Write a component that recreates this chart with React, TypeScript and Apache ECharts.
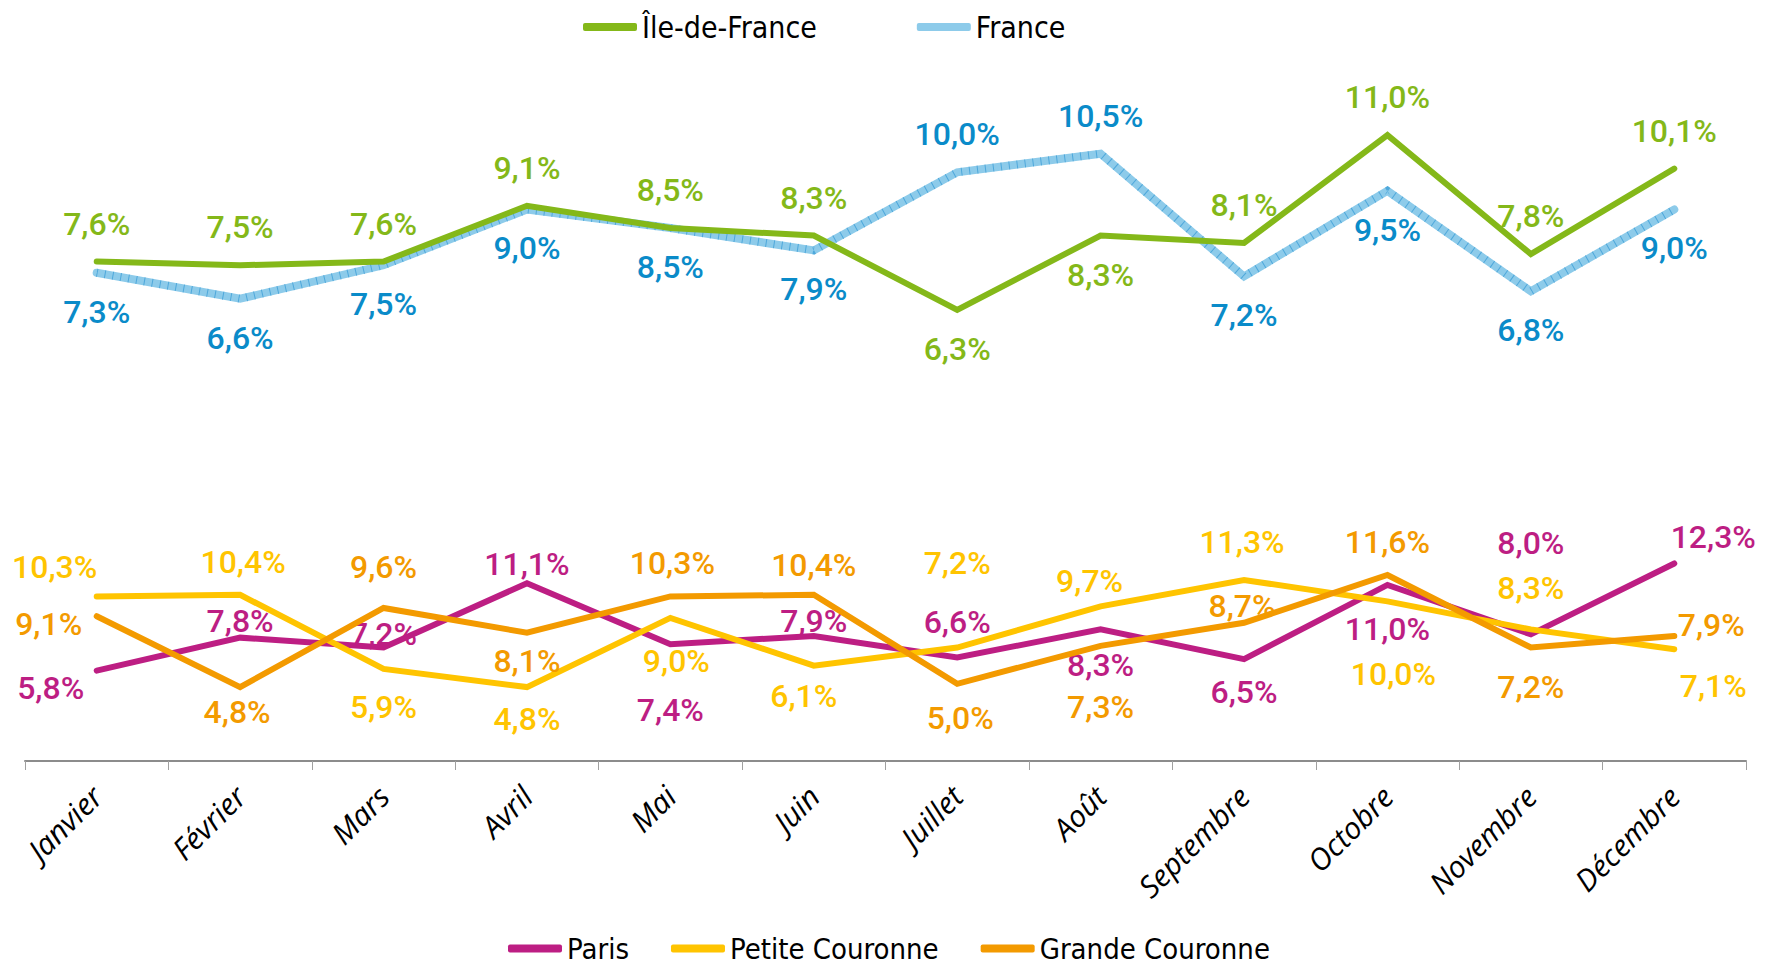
import React, { useEffect, useRef } from "react";
import * as echarts from "echarts";

const months = ["Janvier", "Février", "Mars", "Avril", "Mai", "Juin", "Juillet", "Août", "Septembre", "Octobre", "Novembre", "Décembre"];

const idfValues = [7.6, 7.5, 7.6, 9.1, 8.5, 8.3, 6.3, 8.3, 8.1, 11.0, 7.8, 10.1];
const franceValues = [7.3, 6.6, 7.5, 9.0, 8.5, 7.9, 10.0, 10.5, 7.2, 9.5, 6.8, 9.0];
const parisValues = [5.8, 7.8, 7.2, 11.1, 7.4, 7.9, 6.6, 8.3, 6.5, 11.0, 8.0, 12.3];
const petiteValues = [10.3, 10.4, 5.9, 4.8, 9.0, 6.1, 7.2, 9.7, 11.3, 10.0, 8.3, 7.1];
const grandeValues = [9.1, 4.8, 9.6, 8.1, 10.3, 10.4, 5.0, 7.3, 8.7, 11.6, 7.2, 7.9];

// label placement offsets [dx, dy] in pixels (layout only)
const A = -38, B = 39;
const idfLabelOffsets = [[0, A], [0, A], [0, A], [0, A], [0, A], [0, A], [0, B], [0, B], [0, A], [0, A], [0, A], [0, A]];
const franceLabelOffsets = [[0, B], [0, B], [0, B], [0, B], [0, B], [0, B], [0, A], [0, A], [0, B], [0, B], [0, B], [0, B]];
const parisLabelOffsets = [[-46, 17], [0, -17], [0, -14], [0, -19], [0, 66], [0, -15], [0, -35], [0, 36], [0, 33], [0, 44], [0, -91], [39, -26]];
const petiteLabelOffsets = [[-42, -29], [3, -33], [0, 38], [0, 32], [6, 43], [-10, 30], [0, -85], [-11, -25], [-2, -38], [6, 73], [0, -41], [39, 37]];
const grandeLabelOffsets = [[-48, 8], [-3, 25], [0, -41], [0, 28], [2, -33], [0, -30], [3, 34], [0, 61], [-2, -17], [0, -33], [0, 39], [37, -11]];

const labelFont = "Roboto";
const fmt = (v: number) => v.toFixed(1).replace(".", ",") + "%";

function makeSeries(name: string, values: number[], offsets: number[][], color: string, labelColor: string, yAxisIndex: number, width: number, z: number) {
  return {
    type: "line",
    name,
    yAxisIndex,
    z,
    data: values.map((v, i) => ({ value: v, label: { offset: offsets[i] } })),
    symbol: "circle",
    symbolSize: 1,
    itemStyle: { color },
    lineStyle: { color, width, cap: "round", join: "miter" },
    label: {
      show: true,
      position: "inside",
      color: labelColor,
      fontSize: 32,
      fontWeight: 500,
      fontFamily: labelFont,
      formatter: (p: any) => fmt(p.value),
    },
    emphasis: { disabled: true },
  };
}

export default function App() {
  const ref = useRef<HTMLDivElement>(null);
  useEffect(() => {
    document.body.style.margin = "0";
    const chart = echarts.init(ref.current!, undefined, { renderer: "svg" });
    const legendFont = "'Liberation Sans Narrow', 'DejaVu Sans Condensed', sans-serif";
    chart.setOption({
      animation: false,
      backgroundColor: "#fff",
      grid: { left: 25, right: 21, top: 60, bottom: 206, containLabel: false },
      legend: [
        {
          data: ["Île-de-France", "France"],
          left: 578,
          top: 7,
          icon: "roundRect",
          itemWidth: 54,
          itemHeight: 8,
          itemGap: 100,
          textStyle: { fontFamily: legendFont, fontSize: 30, color: "#000" },
        },
        {
          data: ["Paris", "Petite Couronne", "Grande Couronne"],
          left: 503,
          top: 929,
          icon: "roundRect",
          itemWidth: 54,
          itemHeight: 8,
          itemGap: 42,
          textStyle: { fontFamily: legendFont, fontSize: 29, color: "#000" },
        },
      ],
      xAxis: {
        type: "category",
        data: months,
        boundaryGap: true,
        axisLine: { show: true, onZero: false, lineStyle: { color: "#8c8c8c", width: 2 } },
        axisTick: { show: true, length: 9, lineStyle: { color: "#a0a0a0", width: 1 } },
        axisLabel: {
          rotate: 45,
          margin: 30,
          interval: 0,
          color: "#000",
          fontSize: 30,
          fontStyle: "italic",
          fontFamily: "'Open Sans', sans-serif",
        },
        splitLine: { show: false },
      },
      yAxis: [
        { type: "value", min: 0.315, max: 42.85, show: false, splitLine: { show: false } },
        { type: "value", min: -5.826, max: 13.018, show: false, splitLine: { show: false } },
      ],
      series: [
        makeSeries("Paris", parisValues, parisLabelOffsets, "#BD1E83", "#BD1E83", 0, 6, 2),
        makeSeries("Petite Couronne", petiteValues, petiteLabelOffsets, "#FFC400", "#FFC400", 0, 6, 3),
        makeSeries("Grande Couronne", grandeValues, grandeLabelOffsets, "#F39A00", "#F39A00", 0, 6, 4),
        makeSeries("France", franceValues, franceLabelOffsets, "#8DCBEA", "#0A8BC9", 1, 8, 5),
        {
          type: "line",
          name: "France hachures",
          yAxisIndex: 1,
          z: 5,
          data: franceValues,
          symbol: "none",
          silent: true,
          lineStyle: { color: "#3E9FD7", width: 8, type: [1, 7], cap: "butt", join: "miter", opacity: 0.8 },
          emphasis: { disabled: true },
        },
        makeSeries("Île-de-France", idfValues, idfLabelOffsets, "#84B819", "#84B819", 1, 6, 6),
      ],
    });
    return () => chart.dispose();
  }, []);
  return <div ref={ref} style={{ position: "absolute", left: 0, top: 0, width: 1767, height: 967 }} />;
}
